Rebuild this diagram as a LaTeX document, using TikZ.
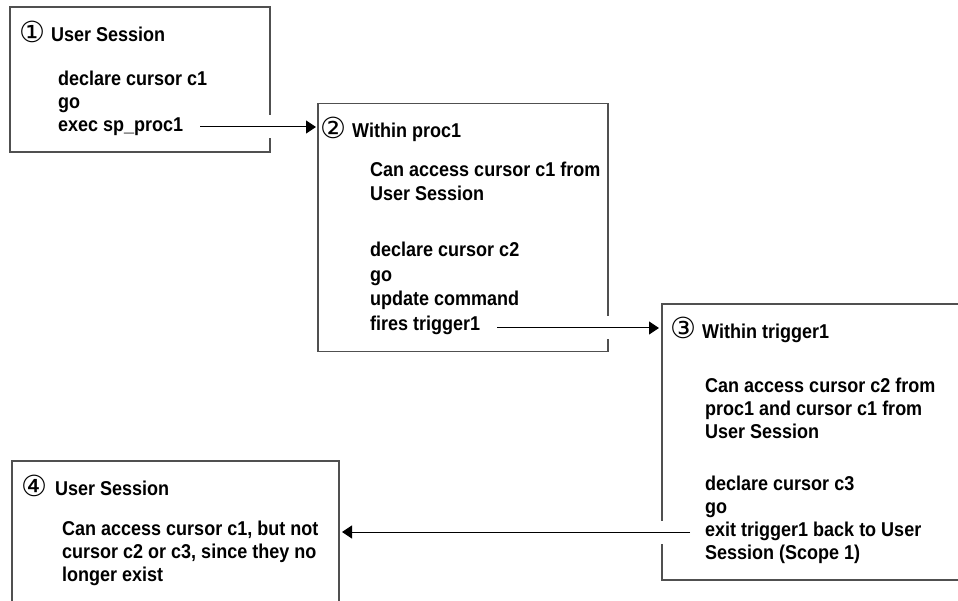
\documentclass[tikz,border=0pt]{standalone}
\usepackage{fontspec}
\setmainfont{Liberation Sans}[FakeStretch=0.9]
\newfontfamily\circfont{DejaVu Sans}
\usetikzlibrary{arrows.meta}
\definecolor{boxline}{HTML}{505050}
\tikzset{
  box/.style={draw=boxline, line width=1.1pt, rectangle, inner sep=0pt, outer sep=0pt, anchor=north west},
  txt/.style={anchor=base west, inner sep=0pt, font=\bfseries\fontsize{20}{23}\selectfont},
  num/.style={anchor=base west, inner sep=0pt, font=\circfont\fontsize{29}{29}\selectfont},
  halo/.style={draw=white, line width=23pt},
  arr/.style={draw=black, line width=1pt, -{Triangle[length=10pt,width=13pt]}}
}
\begin{document}
\begin{tikzpicture}[x=1pt,y=-1pt]
\useasboundingbox (0,0) rectangle (958,601);
\clip (0,0) rectangle (958,601);
\fill[white] (0,0) rectangle (958,601);
% boxes
\node[box, minimum width=260pt, minimum height=145pt] (b1) at (10,7) {};
\node[box, minimum width=290pt, minimum height=248pt] (b2) at (318,103.5) {};
\node[box, minimum width=330pt, minimum height=276pt] (b3) at (662,304) {};
\node[box, minimum width=327pt, minimum height=170pt] (b4) at (12,461) {};
% box 1 text
\node[num] (n1) at (19,43) {①};
\node[txt] (t1) at (51,42) {User Session};
\node[txt] (l11) at (58,86) {declare cursor c1};
\node[txt] (l12) at (58,109) {go};
\node[txt] (l13) at (58,132) {exec sp\_proc1};
% box 2 text
\node[num] (n2) at (320,139) {②};
\node[txt] (t2) at (352,138) {Within proc1};
\node[txt] (l21) at (370,177) {Can access cursor c1 from};
\node[txt] (l22) at (370,201) {User Session};
\node[txt] (l23) at (370,257) {declare cursor c2};
\node[txt] (l24) at (370,282) {go};
\node[txt] (l25) at (370,306) {update command};
\node[txt] (l26) at (370,331) {fires trigger1};
% box 3 text
\node[num] (n3) at (670,339) {③};
\node[txt] (t3) at (702,338) {Within trigger1};
\node[txt] (l31) at (705,392) {Can access cursor c2 from};
\node[txt] (l32) at (705,415) {proc1 and cursor c1 from};
\node[txt] (l33) at (705,438) {User Session};
\node[txt] (l34) at (705,490) {declare cursor c3};
\node[txt] (l35) at (705,513) {go};
\node[txt] (l36) at (705,536) {exit trigger1 back to User};
\node[txt] (l37) at (705,559) {Session (Scope 1)};
% box 4 text
\node[num] (n4) at (21,496) {④};
\node[txt] (t4) at (55,495) {User Session};
\node[txt] (l41) at (62,535) {Can access cursor c1, but not};
\node[txt] (l42) at (62,558) {cursor c2 or c3, since they no};
\node[txt] (l43) at (62,581) {longer exist};
% connectors
\coordinate (a1) at (200,127);
\coordinate (a2) at (497,328);
\coordinate (a3) at (690,532);
\draw[halo] (a1) -- ([xshift=-12pt]a1 -| b2.west);
\draw[halo] (a2) -- ([xshift=-12pt]a2 -| b3.west);
\draw[halo] (a3) -- ([xshift=13pt]a3 -| b4.east);
\draw[arr, shorten >=2pt] (a1) -- (a1 -| b2.west);
\draw[arr, shorten >=3pt] (a2) -- (a2 -| b3.west);
\draw[arr, shorten >=3pt] (a3) -- (a3 -| b4.east);
\end{tikzpicture}
\end{document}
